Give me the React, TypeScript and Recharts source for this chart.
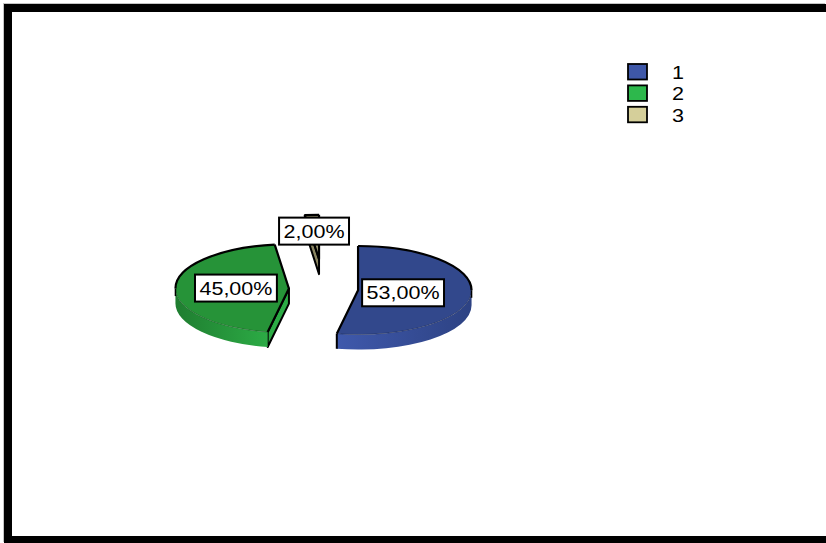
import { PieChart, Pie, Cell, Legend } from "recharts";

const names = ["1", "2", "3"];
const shares = [53, 45, 2];
const swatchFills = ["#3e57a8", "#2db84c", "#d5cf9a"];
const topFills = ["#32488c", "#269338", "#a39e78"];
const wallLeft = ["#3f59ac", "#1f7d30", "#8a8562"];
const wallRight = ["#2d4283", "#2cab45", "#8a8562"];
const tagOffsets = [
  [45, 2.5],
  [-53, -0.5],
  [-5, -28],
];

const rows = names.map((name, i) => ({ name, share: shares[i] }));

const SQUASH = 0.39; // flattening of the disc
const DEPTH = 15;
const EXPLODE_X = 34.5;
const EXPLODE_Y = 29.5;
const LEAN_X = 2.3;
const LEAN_Y = 1;
const FONT = "'Liberation Sans', Arial, sans-serif";

const rad = (a: number) => (a * Math.PI) / 180;

// How far a slice is pulled out of the pie, from its middle angle
function explode(mid: number) {
  const c = Math.cos(rad(mid));
  const s = Math.sin(rad(mid));
  return { dx: EXPLODE_X * c - LEAN_X * s, dy: -EXPLODE_Y * s - LEAN_Y * c };
}

// Slice drawn as an elliptical wedge with a wall below it
function Slice3D(props: any) {
  const { cx, cy, outerRadius, startAngle: s, endAngle: e, index } = props;
  const { dx, dy } = explode((s + e) / 2);
  const x0 = cx + dx;
  const y0 = cy + dy;
  const rx = outerRadius;
  const ry = outerRadius * SQUASH;
  const pt = (a: number) => [x0 + rx * Math.cos(rad(a)), y0 - ry * Math.sin(rad(a))];
  const arcTo = (from: number, to: number) => {
    const [x, y] = pt(to);
    return `A${rx} ${ry} 0 ${from - to > 180 ? 1 : 0} 1 ${x} ${y}`;
  };
  const arc = (from: number, to: number) => `M${pt(from).join(" ")}${arcTo(from, to)}`;

  const [sx, sy] = pt(s);
  const [ex, ey] = pt(e);
  const top = `M${x0} ${y0}L${sx} ${sy}${arcTo(s, e)}Z`;

  // front part of the rim gets a wall, back part the heavy outline
  const frontFrom = Math.min(s, 0);
  const frontTo = Math.max(e, -180);
  const hasFront = frontFrom > frontTo;
  let wall = "";
  if (hasFront) {
    const [ax, ay] = pt(frontFrom);
    const [bx, by] = pt(frontTo);
    wall =
      `${arc(frontFrom, frontTo)}L${bx} ${by + DEPTH}` +
      `A${rx} ${ry} 0 ${frontFrom - frontTo > 180 ? 1 : 0} 0 ${ax} ${ay + DEPTH}Z`;
  }
  let back = "";
  if (s > 0) back += arc(s, Math.max(e, 0));
  if (e < -180) back += arc(Math.min(s, -180), e);

  // cut face on the start edge shows when it turns towards the viewer
  const startCutVisible = Math.sin(rad(s + 90)) < -1e-6;
  const endCutVisible = Math.sin(rad(e - 90)) < -1e-6;
  const cut = (px: number, py: number) =>
    `M${x0} ${y0}L${px} ${py}L${px} ${py + DEPTH}L${x0} ${y0 + DEPTH}Z`;
  const gradId = `wall-${index}`;

  return (
    <g>
      <defs>
        <linearGradient id={gradId} x1="0" x2="1" y1="0" y2="0">
          <stop offset="0" stopColor={wallLeft[index]} />
          <stop offset="1" stopColor={wallRight[index]} />
        </linearGradient>
      </defs>
      {startCutVisible && <path d={cut(sx, sy)} fill={wallRight[index]} stroke="#000" strokeWidth={2} strokeLinejoin="round" />}
      {endCutVisible && <path d={cut(ex, ey)} fill={wallRight[index]} stroke="#000" strokeWidth={2} strokeLinejoin="round" />}
      {hasFront && <path d={wall} fill={`url(#${gradId})`} />}
      <path d={top} fill={topFills[index]} />
      {hasFront && <path d={arc(frontFrom, frontTo)} fill="none" stroke="#000" strokeOpacity={0.35} strokeWidth={0.7} />}
      {back && <path d={back} fill="none" stroke="#000" strokeWidth={2.2} />}
      <path d={`M${sx} ${sy}L${x0} ${y0}L${ex} ${ey}`} fill="none" stroke="#000" strokeWidth={2.2} strokeLinejoin="round" />
      {hasFront && frontTo > -180 && (
        <path d={`M${pt(frontTo)[0]} ${pt(frontTo)[1]}v${DEPTH}`} stroke="#000" strokeWidth={2} />
      )}
      {hasFront && frontFrom === 0 && (
        <path d={`M${pt(0)[0]} ${pt(0)[1]}v${DEPTH * 0.5}`} stroke="#000" strokeWidth={1.5} />
      )}
      {hasFront && frontTo === -180 && (
        <path d={`M${pt(-180)[0]} ${pt(-180)[1]}v${DEPTH * 0.5}`} stroke="#000" strokeWidth={1.5} />
      )}
    </g>
  );
}

// White boxed percentage, comma as the decimal separator
function PercentTag(props: any) {
  const { cx, cy, midAngle, index, value } = props;
  const { dx, dy } = explode(midAngle);
  const x = cx + dx + tagOffsets[index][0];
  const y = cy + dy + tagOffsets[index][1];
  const text = `${Number(value).toFixed(2).replace(".", ",")}%`;
  const textWidth = ((text.length - 2) * 0.556 + 0.278 + 0.889) * 21.5;
  const w = textWidth + 9;
  return (
    <g>
      <rect x={x - w / 2} y={y - 13.5} width={w} height={27} fill="#fff" stroke="#000" strokeWidth={2} />
      <text
        x={x - textWidth / 2}
        y={y + 6.5}
        fontFamily={FONT}
        fontSize={18}
        fill="#000"
        textLength={textWidth}
        lengthAdjust="spacingAndGlyphs"
      >
        {text}
      </text>
    </g>
  );
}

function SwatchLegend({ payload }: any) {
  return (
    <svg width={70} height={66} style={{ display: "block" }}>
      {(payload ?? []).map((item: any, i: number) => (
        <g key={item.value}>
          <rect x={1} y={1 + i * 21.4} width={19} height={15.5} fill={item.color} stroke="#000" strokeWidth={1.8} />
          <text
            x={45}
            y={16 + i * 21.3}
            fontFamily={FONT}
            fontSize={18}
            fill="#000"
            textLength={12}
            lengthAdjust="spacingAndGlyphs"
          >
            {item.value}
          </text>
        </g>
      ))}
    </svg>
  );
}

export default function App() {
  return (
    <div style={{ position: "absolute", left: 0, top: 0, width: 826, height: 543, background: "#fff", overflow: "hidden" }}>
      {/* heavy frame, open on the right */}
      <div
        style={{
          position: "absolute",
          left: 4,
          top: 4,
          width: 822,
          height: 539,
          boxSizing: "border-box",
          borderLeft: "8px solid #000",
          borderTop: "8px solid #000",
          borderBottom: "7px solid #000",
          boxShadow: "-1px -1px 0 #c4c4c4",
        }}
      />
      <div style={{ position: "absolute", left: 0, top: 0 }}>
        <PieChart width={826} height={543} margin={{ top: 0, right: 0, bottom: 0, left: 0 }}>
          <Pie
            data={rows}
            dataKey="share"
            nameKey="name"
            cx={323.5}
            cy={288.5}
            outerRadius={113.5}
            startAngle={90}
            endAngle={-270}
            stroke="none"
            shape={Slice3D}
            label={PercentTag}
            labelLine={false}
            isAnimationActive={false}
          >
            {rows.map((row, i) => (
              <Cell key={row.name} fill={swatchFills[i]} />
            ))}
          </Pie>
          <Legend
            layout="vertical"
            align="right"
            verticalAlign="top"
            content={SwatchLegend}
            wrapperStyle={{ position: "absolute", left: 627, top: 63, width: 70, height: 66 }}
          />
        </PieChart>
      </div>
    </div>
  );
}
